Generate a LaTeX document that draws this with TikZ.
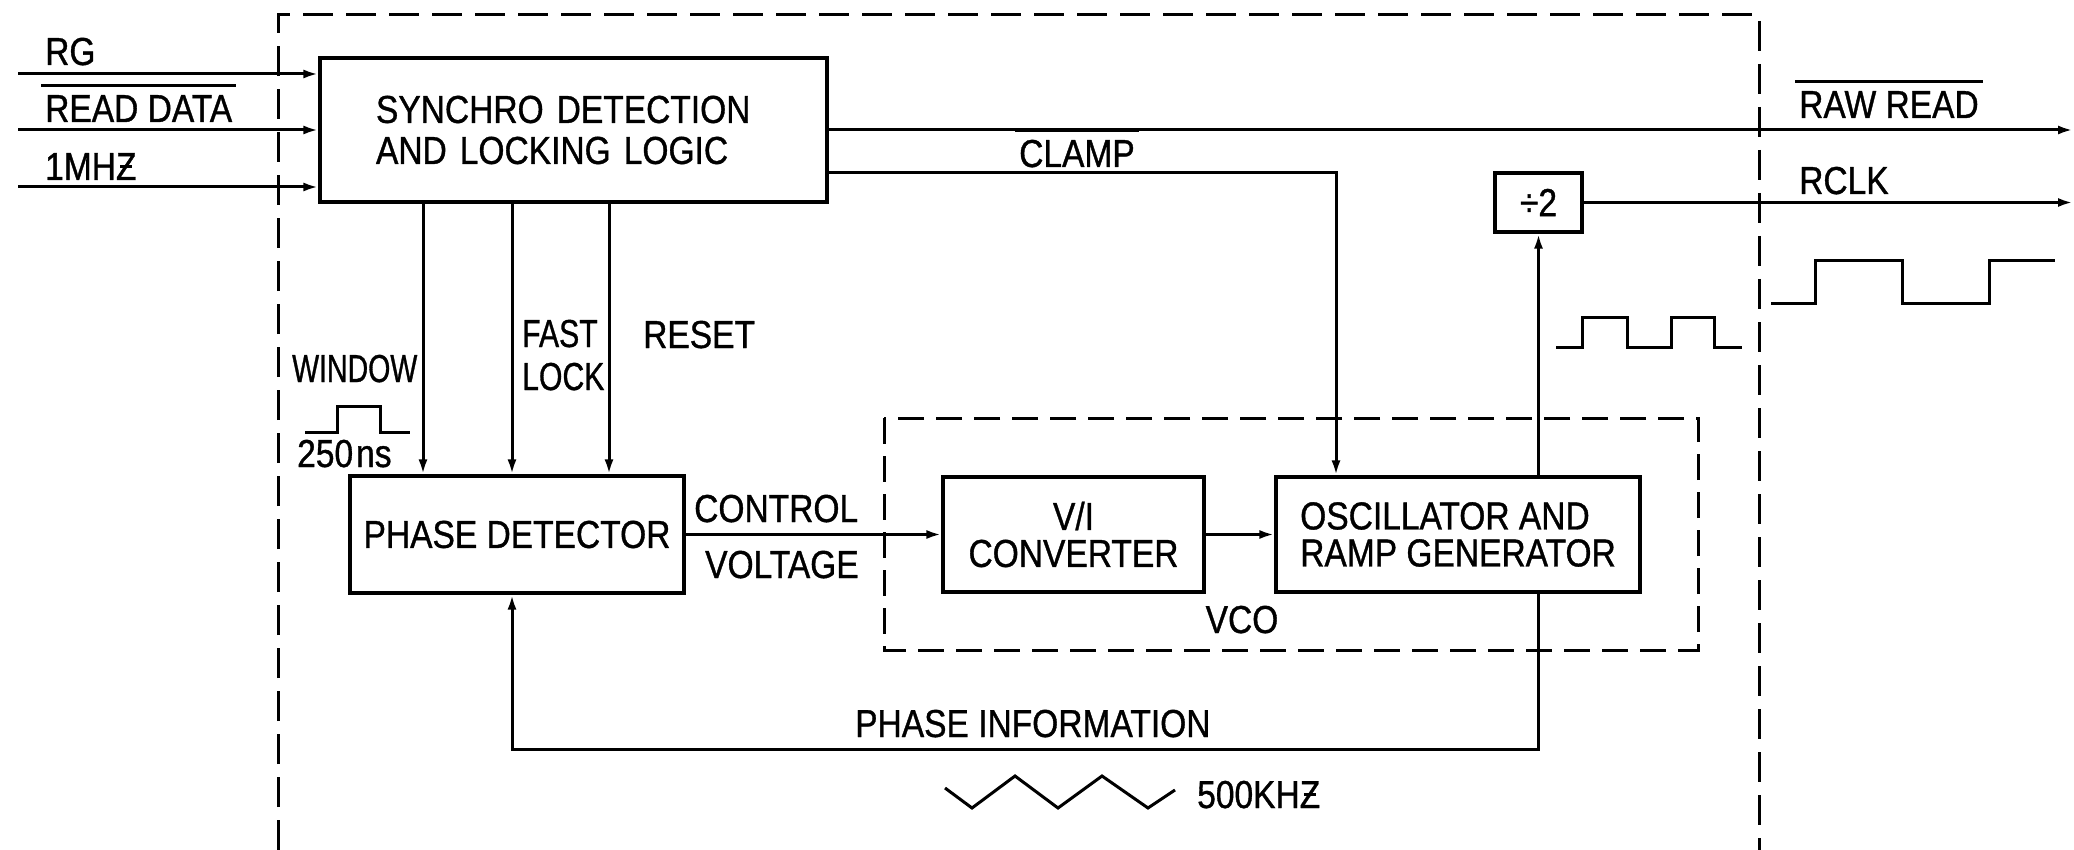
\documentclass[tikz,border=0pt]{standalone}
\usepackage{fontspec}
\usepackage{graphicx}
\setmainfont{Liberation Sans}[FakeStretch=0.86,FakeBold=0.9]
\usetikzlibrary{arrows.meta}
\newcommand\ovl[1]{\setbox0\hbox{#1}\rlap{\kern-0.1em\raisebox{0.9em}{\rule{\dimexpr\wd0+0.2em\relax}{2.6pt}}}\box0}
\newcommand\zb{\setbox2\hbox{Z}\rlap{\hbox to\wd2{\hss\raisebox{0.31em}{\rule{0.6\wd2}{2.6pt}}\hss}}\box2}
\newcommand\narrow[2]{\scalebox{#1}[1]{#2}}
\begin{document}
\begin{tikzpicture}[x=1pt,y=-1pt,
  every node/.style={font=\fontsize{39}{41}\selectfont, inner sep=0pt},
  box/.style={draw, line width=3.2pt, align=center},
  lab/.style={anchor=base west},
  wire/.style={line width=3pt},
  arr/.style={wire, -{Latex[length=15pt,width=9pt]}},
  frame/.style={line width=3pt, dash pattern=on 30pt off 13pt},
  vcoframe/.style={line width=3pt, dash pattern=on 26pt off 12pt}]
\useasboundingbox (0,0) rectangle (2074,850);
\fill[white] (0,0) rectangle (2074,850);

% frames
\draw[frame] (278,850) -- (278,15) -- (1759,15) -- (1759,850);
\draw[vcoframe] (884,418) rectangle (1698,650);

% blocks
\node[box, minimum width=507pt, minimum height=144pt, text width=395pt, align=left] (sync) at (573.5,130) {SYNCHRO DETECTION\\AND LOCKING LOGIC};
\node[box, minimum width=334pt, minimum height=117pt] (pd) at (517,534.5) {PHASE DETECTOR};
\node[box, minimum width=261pt, minimum height=115pt, font=\fontsize{39}{37}\selectfont] (vi) at (1073.5,534.5) {V/I\\CONVERTER};
\node[box, minimum width=364pt, minimum height=115pt, align=left, font=\fontsize{39}{37}\selectfont] (osc) at (1458,534.5) {OSCILLATOR AND\\RAMP GENERATOR};
\node[box, minimum width=87pt, minimum height=59pt] (div) at (1538.5,202.5) {÷2};

% input labels
\node[lab] (lrg) at (45,65) {RG};
\node[lab] (lrd) at (45,122) {\ovl{READ DATA}};
\node[lab] (lmh) at (45,180) {1MH\zb};

% inputs
\coordinate (rgS) at (18,74);
\coordinate (rdS) at (18,130);
\coordinate (mhS) at (18,187);
\draw[arr] (rgS) -- (rgS -| sync.west);
\draw[arr] (rdS) -- (rdS -| sync.west);
\draw[arr] (mhS) -- (mhS -| sync.west);

% outputs
\coordinate (rawE) at (2073,130);
\draw[arr] (sync.east) -- (rawE);
\node[lab] (lraw) at (1799,118) {\ovl{RAW READ}};
\coordinate (rclkE) at (2073,202.5);
\draw[arr] (div.east) -- (rclkE);
\node[lab] (lrclk) at (1799,194) {RCLK};

% clamp
\coordinate (clk) at (1336,173);
\draw[arr] (clk -| sync.east) -- (clk) -- (clk |- osc.north);
\node[lab] (lclamp) at (1019,167) {\ovl{CLAMP}};

% osc to divider
\draw[arr] (div.south |- osc.north) -- (div.south);

% sync to phase detector
\coordinate (wx) at (423,0);
\coordinate (fx) at (512,0);
\coordinate (rx) at (609,0);
\draw[arr] (wx |- sync.south) -- (wx |- pd.north);
\draw[arr] (fx |- sync.south) -- (fx |- pd.north);
\draw[arr] (rx |- sync.south) -- (rx |- pd.north);
\node[lab] (lwin) at (292,382) {\narrow{0.85}{WINDOW}};
\node[lab] (l250) at (297,467) {250\kern3pt ns};
\node[lab] (lfast) at (522,347) {\narrow{0.9}{FAST}};
\node[lab] (llock) at (522,390) {\narrow{0.9}{LOCK}};
\node[lab] (lreset) at (643,348) {RESET};

% control voltage
\draw[arr] (pd.east) -- (vi.west);
\draw[arr] (vi.east) -- (osc.west);
\node[lab] (lcon) at (694,522) {CONTROL};
\node[lab] (lvol) at (705,578) {VOLTAGE};
\node[anchor=base] (lvco) at (1242,633) {VCO};

% phase information loop
\coordinate (pil) at (512,749);
\coordinate (pir) at (1538,749);
\draw[arr] (pir |- osc.south) -- (pir) -- (pil) -- (pil |- pd.south);
\node[lab] (lpi) at (855,737) {PHASE INFORMATION};

% waveforms
\draw[wire] (305,432) -- (337,432) -- (337,406) -- (380,406) -- (380,432) -- (410,432);
\draw[wire] (1556,347) -- (1582,347) -- (1582,317) -- (1627,317) -- (1627,347) -- (1671,347) -- (1671,317) -- (1714,317) -- (1714,347) -- (1742,347);
\draw[wire] (1771,303) -- (1815,303) -- (1815,261) -- (1902,261) -- (1902,303) -- (1989,303) -- (1989,261) -- (2055,261);
\draw[wire] (945,788) -- (972,808) -- (1015,776) -- (1058,808) -- (1102,776) -- (1148,808) -- (1175,790);
\node[lab] (l500) at (1197,808) {500KH\zb};
\end{tikzpicture}
\end{document}
